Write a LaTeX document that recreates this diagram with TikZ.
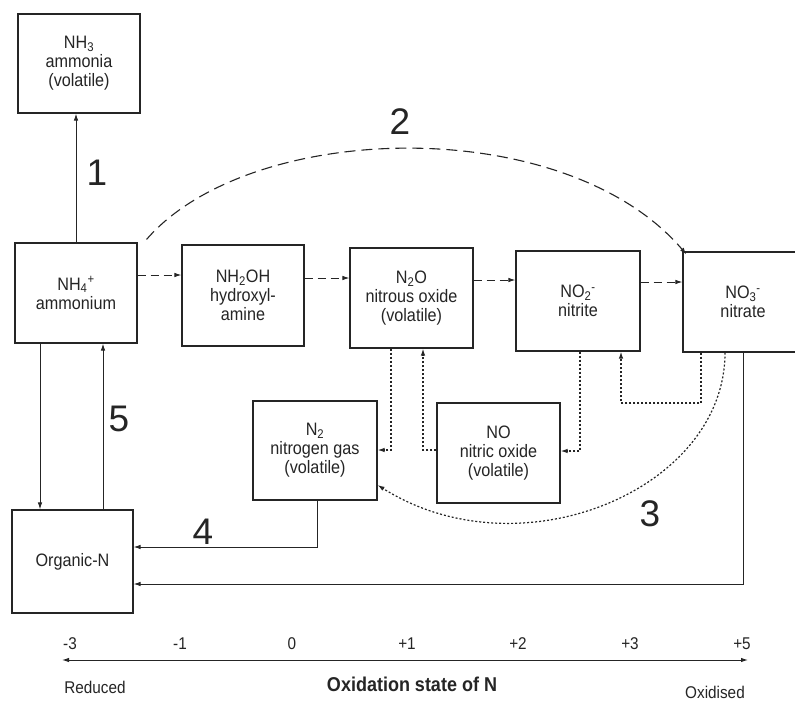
\documentclass[tikz,border=0pt]{standalone}
\usepackage{fontspec}
\setmainfont{Liberation Sans}
\newfontfamily\narrowsans{Liberation Sans}[FakeStretch=0.9]
\usetikzlibrary{arrows.meta}
\definecolor{ink}{HTML}{252525}
\begin{document}
\begin{tikzpicture}[x=1pt,y=-1pt,
  box/.style={draw=ink, line width=1.1pt, inner sep=0pt, align=center, text=ink, font=\narrowsans\fontsize{18}{19}\selectfont},
  conn/.style={draw=ink, line width=1pt, -{Latex[length=7pt,width=4.5pt]}},
  dashedarrow/.style={conn, dash pattern=on 8pt off 5pt},
  arcdash/.style={conn, line width=1.1pt, dash pattern=on 11pt off 6pt},
  dottedarrow/.style={conn, line width=1.2pt, dash pattern=on 2pt off 2pt},
  bignum/.style={text=ink, font=\fontsize{37}{37}\selectfont},
  axlab/.style={text=ink, font=\narrowsans\fontsize{17}{17}\selectfont}]
\useasboundingbox (0,0) rectangle (795,701);
\fill[white] (0,0) rectangle (795,701);
\clip (0,0) rectangle (795,701);

% boxes
\node[box, minimum width=122pt, minimum height=99pt] (nh3) at (79,63.5) {NH\textsubscript{3}\\ammonia\\(volatile)};
\node[box, minimum width=122pt, minimum height=100pt] (nh4) at (76,293) {NH\textsubscript{4}\textsuperscript{+}\\ammonium};
\node[box, minimum width=122pt, minimum height=101pt] (nh2oh) at (243,295.5) {NH\textsubscript{2}OH\\hydroxyl-\\amine};
\node[box, minimum width=123pt, minimum height=100pt] (n2o) at (411.5,298) {N\textsubscript{2}O\\nitrous oxide\\(volatile)};
\node[box, minimum width=124pt, minimum height=100pt] (no2) at (578,301) {NO\textsubscript{2}\textsuperscript{-}\\nitrite};
\node[box, minimum width=120pt, minimum height=100pt] (no3) at (743,302) {NO\textsubscript{3}\textsuperscript{-}\\nitrate};
\node[box, minimum width=124pt, minimum height=99pt] (n2) at (315,450.5) {N\textsubscript{2}\\nitrogen gas\\(volatile)};
\node[box, minimum width=123pt, minimum height=100pt] (no) at (498.5,453) {NO\\nitric oxide\\(volatile)};
\node[box, minimum width=121pt, minimum height=103pt] (org) at (72.5,561.5) {Organic-N};

% 1
\draw[conn] (nh4.north) -- (nh4.north |- nh3.south);
% oxidation chain
\draw[dashedarrow] (nh4.east |- 0,275) -- (nh2oh.west |- 0,275);
\draw[dashedarrow] (nh2oh.east |- 0,278) -- (n2o.west |- 0,278);
\draw[dashedarrow] (n2o.east |- 0,280) -- (no2.west |- 0,280);
\draw[dashedarrow] (no2.east |- 0,282) -- (no3.west |- 0,282);
% 2
\draw[arcdash] ([xshift=9pt,yshift=3pt]nh4.north east) .. controls (250,120) and (565,112) .. ([xshift=4pt,yshift=-3pt]no3.north west);
% 5 and assimilation
\draw[conn] (nh4.south -| 40,0) -- (org.north -| 40,0);
\draw[conn] (org.north -| 103,0) -- (nh4.south -| 103,0);
% 4
\draw[conn] (n2.south -| 317,0) -- (317,547) -- (org.east |- 0,547);
\draw[conn] (no3.south) -- (no3.south |- 0,584) -- (org.east |- 0,584);
% 3 denitrification
\draw[dottedarrow] (n2o.south -| 391,0) -- (391,450) -- (n2.east |- 0,450);
\draw[dottedarrow] (no.west |- 0,450) -- (423,450) -- (n2o.south -| 423,0);
\draw[dottedarrow] (no2.south -| 580,0) -- (580,451) -- (no.east |- 0,451);
\draw[dottedarrow] (no3.south -| 701,0) -- (701,403) -- (621,403) -- (no2.south -| 621,0);
\draw[dottedarrow] (no3.south -| 725,0) .. controls (725,490) and (520,575) .. (n2.east |- 0,485);

% process numbers
\node[bignum] (l1) at (97,173) {1};
\node[bignum] (l2) at (400,122) {2};
\node[bignum] (l3) at (650,514) {3};
\node[bignum] (l4) at (203,532) {4};
\node[bignum] (l5) at (119,419) {5};

% axis
\coordinate (axl) at (62,660);
\coordinate (axr) at (748,660);
\draw[draw=ink, line width=1pt, {Latex[length=7pt,width=4.5pt]}-{Latex[length=7pt,width=4.5pt]}] (axl) -- (axr);
\node[axlab] (t1) at (70,644) {-3};
\node[axlab] (t2) at (180,644) {-1};
\node[axlab] (t3) at (292,644) {0};
\node[axlab] (t4) at (407,644) {+1};
\node[axlab] (t5) at (518,644) {+2};
\node[axlab] (t6) at (630,644) {+3};
\node[axlab] (t7) at (742,644) {+5};
\node[axlab] (red) at (95,687) {Reduced};
\node[text=ink, font=\narrowsans\fontsize{20}{20}\selectfont\bfseries] (oxs) at (412,684) {Oxidation state of N};
\node[axlab] (oxd) at (715,692) {Oxidised};
\end{tikzpicture}
\end{document}
